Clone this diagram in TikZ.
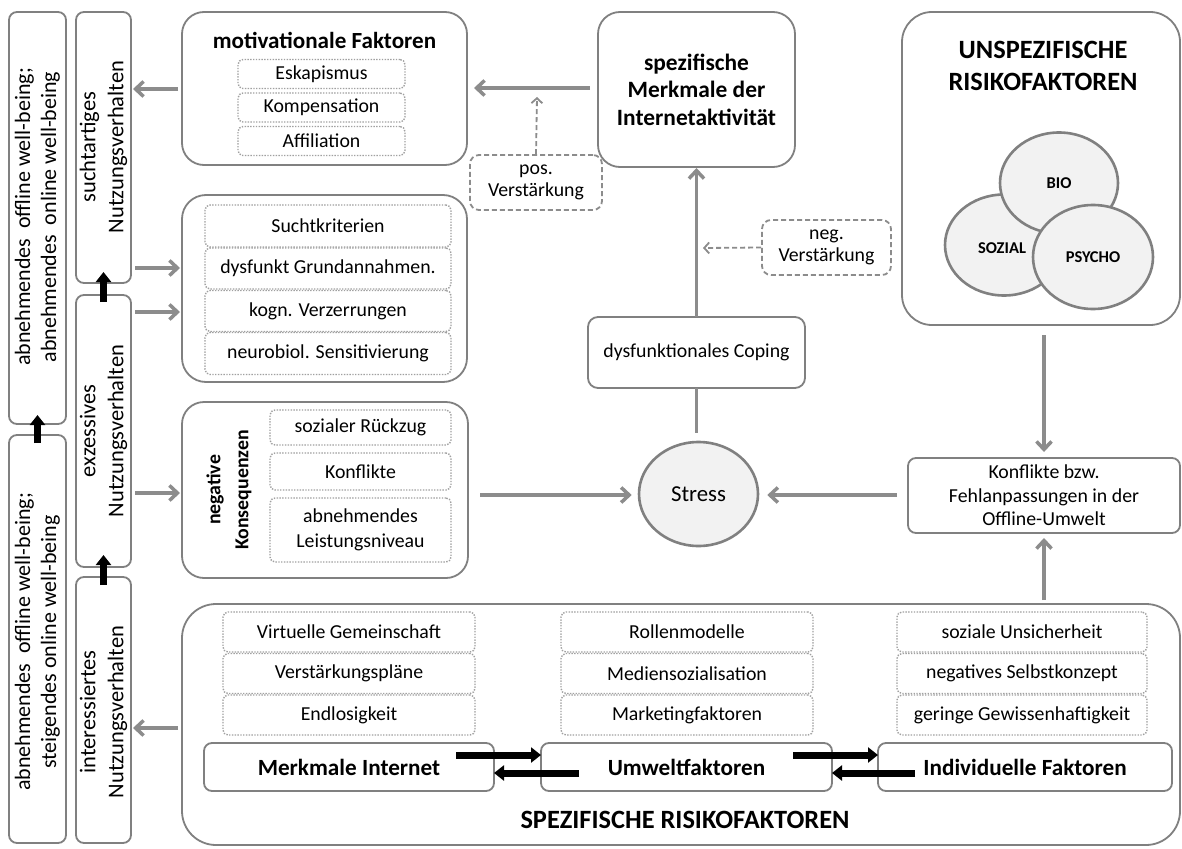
\documentclass[tikz,border=0pt]{standalone}
\usepackage{fontspec}
\setmainfont{Carlito}
\usetikzlibrary{arrows.meta,shapes.geometric}
\definecolor{bx}{HTML}{808080}
\definecolor{ar}{HTML}{8C8C8C}
\definecolor{dt}{HTML}{A0A0A0}
\definecolor{fl}{HTML}{F2F2F2}
\newcommand\fsz[2]{\fontsize{#1}{#2}\selectfont}
\begin{document}
\begin{tikzpicture}[x=1pt,y=-1pt,
  box/.style={draw=bx, line width=1.8pt, rounded corners=#1, inner sep=0pt, outer sep=0pt, align=center},
  box/.default=8pt,
  dotbox/.style={draw=dt, line width=1.4pt, dash pattern=on 1.4pt off 1.4pt, rounded corners=5pt, inner sep=0pt, align=center, font=\fsz{19.8}{23.5}},
  dashbox/.style={draw=ar, line width=1.8pt, dash pattern=on 5pt off 3pt, rounded corners=9pt, inner sep=0pt, align=center, font=\fsz{19.8}{21.5}},
  vlab/.style={rotate=90, align=center, font=\fsz{22}{26}, inner sep=0pt},
  garrow/.style={draw=ar, line width=3.5pt, -{Straight Barb[length=8pt,width=15pt]}},
  gline/.style={draw=ar, line width=3.5pt},
  darrow/.style={draw=ar, line width=1.8pt, dash pattern=on 5pt off 3pt, -{Straight Barb[length=5pt,width=11pt]}},
  barrow/.style={draw=black, line width=7pt, -{Triangle[length=10pt,width=15pt]}},
  circ/.style={ellipse, draw=bx, line width=2.6pt, fill=fl, inner sep=0pt, font=\bfseries\fsz{16.5}{18}}
]
\useasboundingbox[fill=white] (0,0) rectangle (1182,848);

% ---------- left column ----------
\node[box, minimum width=57pt, minimum height=412pt] (A) at (37.5,218) {};
\node[vlab] (At) at (37.5,217) {abnehmendes\ \ offline well-being;\\abnehmendes\ \ online well-being};
\node[box, minimum width=57pt, minimum height=408pt] (B) at (37.5,639) {};
\node[vlab] (Bt) at (37.5,642) {abnehmendes\ \ offline well-being;\\steigendes online well-being};
\node[box, minimum width=55pt, minimum height=271pt] (C) at (103.5,147.5) {};
\node[vlab, font=\fsz{22.5}{28}] (Ct) at (103.5,147) {suchtartiges\\Nutzungsverhalten};
\node[box, minimum width=55pt, minimum height=272pt] (D) at (103.5,431) {};
\node[vlab, font=\fsz{22.5}{28}] (Dt) at (103.5,431) {exzessives\\Nutzungsverhalten};
\node[box, minimum width=55pt, minimum height=266pt] (E) at (103.5,710) {};
\node[vlab, font=\fsz{22.5}{28}] (Et) at (103.5,712) {interessiertes\\Nutzungsverhalten};

\draw[barrow] ([yshift=-8pt]B.north) -- ([yshift=9pt]A.south);
\draw[barrow] ([yshift=-7pt]D.north) -- ([yshift=11pt]C.south);
\draw[barrow] ([yshift=-8pt]E.north) -- ([yshift=12pt]D.south);

% ---------- motivationale Faktoren ----------
\node[box=22pt, minimum width=285pt, minimum height=153pt] (mot) at (324.5,88.5) {};
\node[font=\bfseries\fsz{23.1}{27}, inner sep=0pt] (motT) at (324.5,40) {motivationale Faktoren};
\node[dotbox, minimum width=167pt, minimum height=29pt] (esk) at (321.5,74) {Eskapismus};
\node[dotbox, minimum width=167pt, minimum height=29pt] (kom) at (321.5,107.5) {Kompensation};
\node[dotbox, minimum width=167pt, minimum height=29pt] (aff) at (321.5,141) {Affiliation};

% ---------- Suchtkriterien ----------
\node[box=24pt, minimum width=285pt, minimum height=187pt] (sucht) at (324.5,288.5) {};
\node[dotbox, minimum width=246pt, minimum height=42pt] (s1) at (328,226) {Suchtkriterien};
\node[dotbox, minimum width=246pt, minimum height=41pt] (s2) at (328,268.5) {dysfunkt Grundannahmen.};
\node[dotbox, minimum width=246pt, minimum height=41pt] (s3) at (328,311) {kogn. Verzerrungen};
\node[dotbox, minimum width=246pt, minimum height=42pt] (s4) at (328,353.5) {neurobiol. Sensitivierung};

% ---------- negative Konsequenzen ----------
\node[box=22pt, minimum width=286pt, minimum height=176pt] (neg) at (325,490) {};
\node[rotate=90, align=center, inner sep=0pt, font=\bfseries\fsz{19.8}{28}] (negT) at (229,490) {negative\\Konsequenzen};
\node[dotbox, minimum width=181pt, minimum height=35pt] (n1) at (360.5,427.5) {sozialer Rückzug};
\node[dotbox, minimum width=181pt, minimum height=37pt] (n2) at (360.5,471.5) {Konflikte};
\node[dotbox, minimum width=181pt, minimum height=64pt, font=\fsz{19.8}{24.5}] (n3) at (360.5,530) {abnehmendes\\Leistungsniveau};

% ---------- centre ----------
\node[box=22pt, minimum width=197pt, minimum height=155pt, font=\bfseries\fsz{23.4}{27.5}] (spez) at (696.5,89.5) {spezifische\\Merkmale der\\Internetaktivität};
\node[dashbox, minimum width=132pt, minimum height=55pt] (posv) at (536,182.5) {pos.\\Verstärkung};
\node[dashbox, minimum width=129pt, minimum height=55pt] (negv) at (826.5,247.5) {neg.\\Verstärkung};
\node[box=10pt, minimum width=217pt, minimum height=71pt, font=\fsz{19.8}{23}] (cop) at (696.5,352.5) {dysfunktionales Coping};
\node[ellipse, draw=bx, line width=2.6pt, fill=fl, inner sep=0pt, minimum width=119pt, minimum height=104pt, font=\fsz{22.8}{26}] (stress) at (698.5,494) {Stress};
\node[box=8pt, minimum width=272pt, minimum height=75pt, font=\fsz{19.8}{23.5}] (konf) at (1044,495.5) {Konflikte bzw.\\Fehlanpassungen in der\\Offline-Umwelt};

% ---------- unspezifische ----------
\node[box=30pt, minimum width=278pt, minimum height=313pt] (unsp) at (1041,168.5) {};
\node[font=\bfseries\fsz{26.4}{32}, align=center, inner sep=0pt] (unspT) at (1043,66) {UNSPEZIFISCHE\\RISIKOFAKTOREN};
\node[circ, minimum width=118pt, minimum height=101pt] (soz) at (1004,245) {};
\node[circ, minimum width=118pt, minimum height=101pt] (bio) at (1059,183) {BIO};
\node[circ, minimum width=120pt, minimum height=104pt] (psy) at (1093,257) {PSYCHO};
\node[font=\bfseries\fsz{16.5}{18}, inner sep=0pt] (sozT) at (1002,248) {SOZIAL};

% ---------- spezifische Risikofaktoren ----------
\node[box=34pt, minimum width=998pt, minimum height=241pt] (big) at (681,724.5) {};
\node[dotbox, minimum width=252pt, minimum height=40pt] (r11) at (349,632) {Virtuelle Gemeinschaft};
\node[dotbox, minimum width=252pt, minimum height=40pt] (r12) at (349,673.5) {Verstärkungspläne};
\node[dotbox, minimum width=252pt, minimum height=40pt] (r13) at (349,715) {Endlosigkeit};
\node[dotbox, minimum width=252pt, minimum height=40pt] (r21) at (687,632) {Rollenmodelle};
\node[dotbox, minimum width=252pt, minimum height=40pt] (r22) at (687,673.5) {Mediensozialisation};
\node[dotbox, minimum width=252pt, minimum height=40pt] (r23) at (687,715) {Marketingfaktoren};
\node[dotbox, minimum width=250pt, minimum height=40pt] (r31) at (1022,632) {soziale Unsicherheit};
\node[dotbox, minimum width=250pt, minimum height=40pt] (r32) at (1022,673.5) {negatives Selbstkonzept};
\node[dotbox, minimum width=250pt, minimum height=40pt] (r33) at (1022,715) {geringe Gewissenhaftigkeit};
\node[box=8pt, minimum width=290pt, minimum height=48pt, font=\bfseries\fsz{23.2}{26}] (mi) at (349,767) {Merkmale Internet};
\node[box=8pt, minimum width=291pt, minimum height=48pt, font=\bfseries\fsz{23.2}{26}] (uw) at (686.5,767) {Umweltfaktoren};
\node[box=8pt, minimum width=294pt, minimum height=48pt, font=\bfseries\fsz{23.2}{26}] (ind) at (1025,767) {Individuelle Faktoren};
\node[font=\bfseries\fsz{26.4}{30}, inner sep=0pt] (bigT) at (685,820) {SPEZIFISCHE RISIKOFAKTOREN};

\draw[barrow] ([xshift=-38pt,yshift=12pt]mi.east) -- ([yshift=12pt]uw.west);
\draw[barrow] ([xshift=38pt,yshift=-6pt]uw.west) -- ([yshift=-6pt]mi.east);
\draw[barrow] ([xshift=-39pt,yshift=12pt]uw.east) -- ([yshift=12pt]ind.west);
\draw[barrow] ([xshift=37pt,yshift=-6pt]ind.west) -- ([yshift=-6pt]uw.east);

% ---------- grey connectors ----------
\draw[garrow, shorten <=4pt, shorten >=2pt] (mot.west |- 0,89) -- (C.east |- 0,89);
\draw[garrow, shorten <=4pt, shorten >=2pt] (C.east |- 0,268) -- (sucht.west |- 0,268);
\draw[garrow, shorten <=4pt, shorten >=2pt] (D.east |- 0,312) -- (sucht.west |- 0,312);
\draw[garrow, shorten <=4pt, shorten >=2pt] (D.east |- 0,493) -- (neg.west |- 0,493);
\draw[garrow, shorten <=4pt, shorten >=2pt] (big.west |- 0,728) -- (E.east |- 0,728);
\draw[garrow, shorten <=8pt, shorten >=7pt] (spez.west |- 0,88) -- (mot.east |- 0,88);
\draw[garrow, shorten >=1pt] (cop.north) -- (spez.south);
\draw[gline, shorten >=8pt] (cop.south) -- (cop.south |- stress.north);
\draw[garrow, shorten <=12pt, shorten >=6pt] (neg.east |- 0,495) -- (stress.west |- 0,495);
\draw[garrow, shorten <=11pt, shorten >=8pt] (konf.west |- 0,495) -- (stress.east |- 0,495);
\draw[garrow, shorten <=10pt, shorten >=6pt] (konf.north |- unsp.south) -- (konf.north);
\draw[garrow, shorten <=4pt, shorten >=5pt] (konf.south |- big.north) -- (konf.south);

\coordinate (posend) at (537,97);
\coordinate (negend) at (703,248);
\draw[darrow] (posv.north) -- (posend);
\draw[darrow] (negv.west) -- (negend);
\end{tikzpicture}
\end{document}
